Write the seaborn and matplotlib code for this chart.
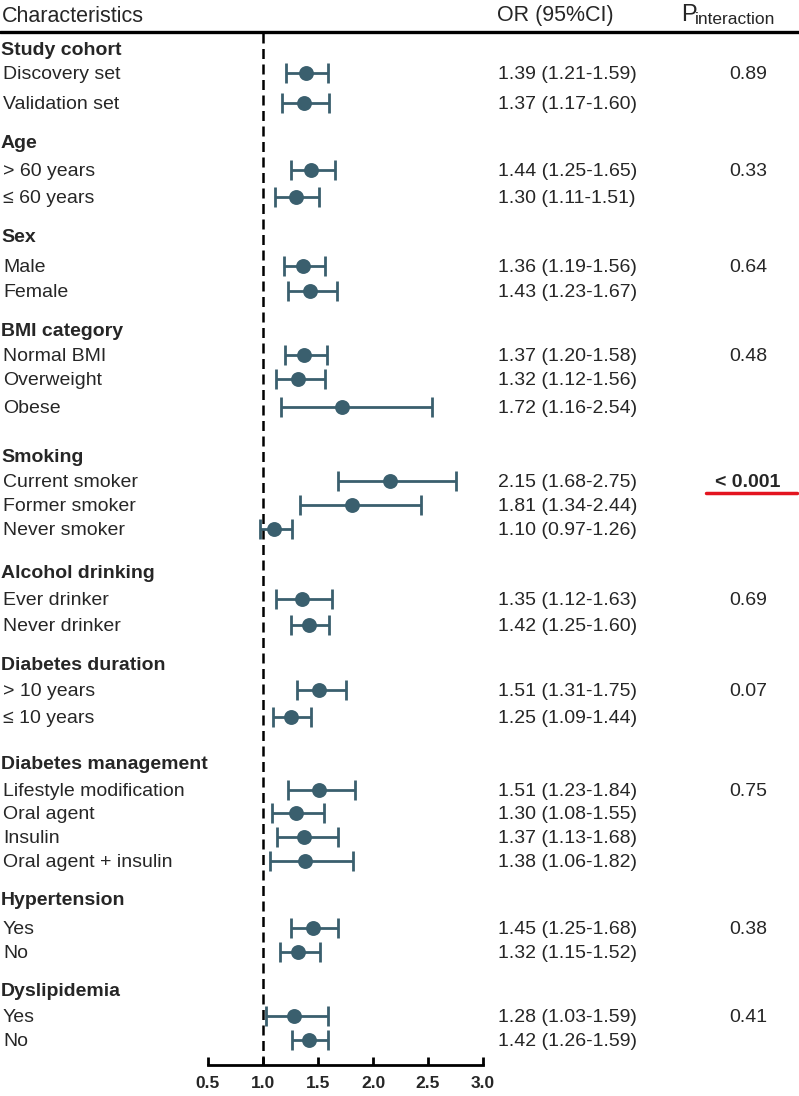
import numpy as np
import pandas as pd
import matplotlib
matplotlib.use("Agg")
import matplotlib.pyplot as plt
import matplotlib.transforms as mtransforms
import seaborn as sns

# data
groups = ["Study cohort", "Age", "Sex", "BMI category", "Smoking",
          "Alcohol drinking", "Diabetes duration", "Diabetes management",
          "Hypertension", "Dyslipidemia"]
subgroups = [
    ["Discovery set", "Validation set"],
    ["> 60 years", "\u2264 60 years"],
    ["Male", "Female"],
    ["Normal BMI", "Overweight", "Obese"],
    ["Current smoker", "Former smoker", "Never smoker"],
    ["Ever drinker", "Never drinker"],
    ["> 10 years", "\u2264 10 years"],
    ["Lifestyle modification", "Oral agent", "Insulin", "Oral agent + insulin"],
    ["Yes", "No"],
    ["Yes", "No"],
]
odds = [1.39, 1.37, 1.44, 1.30, 1.36, 1.43, 1.37, 1.32, 1.72, 2.15, 1.81, 1.10,
        1.35, 1.42, 1.51, 1.25, 1.51, 1.30, 1.37, 1.38, 1.45, 1.32, 1.28, 1.42]
ci_low = [1.21, 1.17, 1.25, 1.11, 1.19, 1.23, 1.20, 1.12, 1.16, 1.68, 1.34, 0.97,
          1.12, 1.25, 1.31, 1.09, 1.23, 1.08, 1.13, 1.06, 1.25, 1.15, 1.03, 1.26]
ci_high = [1.59, 1.60, 1.65, 1.51, 1.56, 1.67, 1.58, 1.56, 2.54, 2.75, 2.44, 1.26,
           1.63, 1.60, 1.75, 1.44, 1.84, 1.55, 1.68, 1.82, 1.68, 1.52, 1.59, 1.59]
p_interaction = ["0.89", "0.33", "0.64", "0.48", "< 0.001", "0.69", "0.07",
                 "0.75", "0.38", "0.41"]

# layout: vertical pixel position of each header and row
header_y = [49, 142, 236, 330, 456, 572, 664, 763, 899, 990]
row_y = [73, 103, 170, 197, 266, 291, 355, 379, 407, 481, 505, 529,
         599, 625, 690, 717, 790, 813, 837, 861, 928, 952, 1016, 1040]

labels = [s for sub in subgroups for s in sub]
df = pd.DataFrame({"label": labels, "OR": odds, "lo": ci_low, "hi": ci_high, "y": row_y})

W, H = 799, 1096
sns.set_theme(style="white")
plt.rcParams["font.family"] = ["Liberation Sans", "DejaVu Sans"]

fig = plt.figure(figsize=(W / 100, H / 100), dpi=100)
ax = fig.add_axes([208 / W, (H - 1065) / H, 275 / W, 1065 / H])
ax.set_xlim(0.5, 3.0)
ax.set_ylim(1065, 0)

col = "#3a5f6e"
ax.errorbar(df["OR"], df["y"], xerr=[df["OR"] - df["lo"], df["hi"] - df["OR"]],
            fmt="none", ecolor=col, elinewidth=2.0, capsize=7, capthick=2.0, zorder=2)
sns.scatterplot(data=df, x="OR", y="y", ax=ax, color=col, s=115, edgecolor=col,
                linewidth=0, zorder=3, legend=False)

ax.vlines(1.0, 33, 1065, colors="black", linestyles=(0, (4, 2.2)), linewidth=1.8, zorder=1)

for s in ["top", "right", "left"]:
    ax.spines[s].set_visible(False)
ax.spines["bottom"].set_linewidth(2.0)
ax.spines["bottom"].set_color("black")
ax.set_xticks([0.5, 1.0, 1.5, 2.0, 2.5, 3.0])
ax.set_xticklabels(["0.5", "1.0", "1.5", "2.0", "2.5", "3.0"], fontweight="bold")
ax.tick_params(axis="x", bottom=True, direction="in", length=6, width=2.0,
               color="black", pad=8, labelsize=12.5)
ax.set_yticks([])
ax.set_xlabel("")
ax.set_ylabel("")

# text columns: x in figure pixels, y in data rows
tr = mtransforms.blended_transform_factory(
    mtransforms.Affine2D().scale(1.0 / W, 1.0) + fig.transFigure, ax.transData)

fs = 14
dy = 1.5
ax.text(2, 16, "Characteristics", transform=tr, fontsize=15.5, va="center", ha="left")
ax.text(497, 16, "OR (95%CI)", transform=tr, fontsize=15.5, va="center", ha="left")
ax.text(681, 15, "P", transform=tr, fontsize=17, va="center", ha="left")
ax.text(695, 20, "interaction", transform=tr, fontsize=12.5, va="center", ha="left")
ax.plot([0, 799], [32, 32], transform=tr, color="black", lw=2.4, clip_on=False)

for g, gy in zip(groups, header_y):
    ax.text(1, gy + dy, g, transform=tr, fontsize=fs, fontweight="bold", va="center", ha="left")

for lab, y, o, l, h in zip(df["label"], df["y"], df["OR"], df["lo"], df["hi"]):
    ax.text(3, y + dy, lab, transform=tr, fontsize=fs, va="center", ha="left")
    ax.text(498, y + dy, f"{o:.2f} ({l:.2f}-{h:.2f})", transform=tr, fontsize=fs,
            va="center", ha="left")

first_rows = np.cumsum([0] + [len(s) for s in subgroups[:-1]])
for p, i in zip(p_interaction, first_rows):
    bold = p.startswith("<")
    ax.text(748, row_y[i] + dy, p, transform=tr, fontsize=fs, va="center", ha="center",
            fontweight="bold" if bold else "normal")
    if bold:
        ax.plot([706, 797], [row_y[i] + 12, row_y[i] + 12], transform=tr,
                color="#e3141f", lw=2.5, clip_on=False)

fig.savefig("out.png", dpi=100)
